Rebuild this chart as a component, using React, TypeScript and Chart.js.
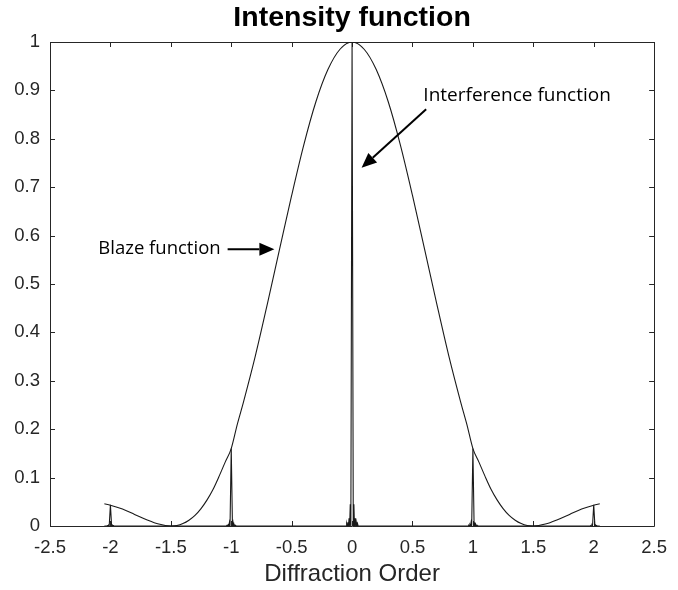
import React, { useEffect, useRef } from "react";
import { Chart, registerables } from "chart.js";

Chart.register(...registerables);

// ---- data ----
const blazeX = [
  -2.05, -2.0, -1.9, -1.8, -1.7, -1.6, -1.5, -1.45, -1.4, -1.35, -1.3, -1.25, -1.2, -1.15, -1.1, -1.05, -1.0,
  -0.95, -0.9, -0.8, -0.7, -0.6, -0.5, -0.4, -0.3, -0.2, -0.1, 0,
  0.1, 0.2, 0.3, 0.4, 0.5, 0.6, 0.7, 0.8, 0.9, 0.95,
  1.0, 1.05, 1.1, 1.15, 1.2, 1.25, 1.3, 1.35, 1.4, 1.45, 1.5, 1.6, 1.7, 1.8, 1.9, 2.0, 2.05,
];
const blazeY = [
  0.046, 0.043, 0.035, 0.024, 0.013, 0.004, 0.0, 0.001, 0.005, 0.012, 0.022, 0.036, 0.054, 0.076, 0.103, 0.132, 0.16,
  0.21, 0.255, 0.352, 0.46, 0.572, 0.683, 0.787, 0.876, 0.943, 0.985, 1.0,
  0.985, 0.943, 0.876, 0.787, 0.683, 0.572, 0.46, 0.352, 0.255, 0.21,
  0.16, 0.132, 0.103, 0.076, 0.054, 0.036, 0.022, 0.012, 0.005, 0.001, 0.0, 0.004, 0.013, 0.024, 0.035, 0.043, 0.046,
];

const interferenceX = [
  -2.05, -2.03, -2.025, -2.02, -2.015, -2.01, -2.0, -1.99, -1.985, -1.98, -1.975, -1.97,
  -1.04, -1.035, -1.03, -1.025, -1.02, -1.015, -1.01, -1.0, -0.99, -0.985, -0.98, -0.975, -0.97, -0.965, -0.96,
  -0.05, -0.045, -0.04, -0.035, -0.03, -0.025, -0.02, -0.015, -0.01, 0, 0.01, 0.015, 0.02, 0.025, 0.03, 0.035, 0.04, 0.045, 0.05,
  0.96, 0.965, 0.97, 0.975, 0.98, 0.985, 0.99, 1.0, 1.01, 1.015, 1.02, 1.025, 1.03, 1.035, 1.04,
  1.97, 1.975, 1.98, 1.985, 1.99, 2.0, 2.01, 2.015, 2.02, 2.025, 2.03, 2.05,
];
const interferenceY = [
  0, 0, 0.0007, 0, 0.002, 0, 0.044, 0, 0.002, 0, 0.0007, 0,
  0, 0.0013, 0, 0.0026, 0, 0.0074, 0, 0.16, 0, 0.0074, 0, 0.0026, 0, 0.0013, 0,
  0, 0.005, 0, 0.008, 0, 0.016, 0, 0.045, 0, 1.0, 0, 0.045, 0, 0.016, 0, 0.008, 0, 0.005, 0,
  0, 0.0013, 0, 0.0026, 0, 0.0074, 0, 0.16, 0, 0.0074, 0, 0.0026, 0, 0.0013, 0,
  0, 0.0007, 0, 0.002, 0, 0.044, 0, 0.002, 0, 0.0007, 0, 0,
];

const xTickValues = [-2.5, -2, -1.5, -1, -0.5, 0, 0.5, 1, 1.5, 2, 2.5];
const xTickLabels = ["-2.5", "-2", "-1.5", "-1", "-0.5", "0", "0.5", "1", "1.5", "2", "2.5"];
const yTickValues = [0, 0.1, 0.2, 0.3, 0.4, 0.5, 0.6, 0.7, 0.8, 0.9, 1];
const yTickLabels = ["0", "0.1", "0.2", "0.3", "0.4", "0.5", "0.6", "0.7", "0.8", "0.9", "1"];

const titleText = "Intensity function";
const xTitleText = "Diffraction Order";

// annotation anchors in data coordinates
const interferenceLabel = { text: "Interference function", x: 0.59, y: 0.889 };
const interferenceArrow = { x1: 0.613, y1: 0.861, x2: 0.079, y2: 0.74 };
const blazeLabel = { text: "Blaze function", x: -2.1, y: 0.572 };
const blazeArrow = { x1: -1.03, y1: 0.572, x2: -0.643, y2: 0.572 };

const AXIS_COLOR = "#262626";
const SANS = "'Liberation Sans', Arial, Helvetica, sans-serif";
const NOTE_FONT = "'Open Sans', 'Noto Sans', sans-serif";

const boxPlugin = {
  id: "matlabBox",
  beforeDatasetsDraw(chart: any) {
    const { ctx, chartArea, scales } = chart;
    const { left, right, top, bottom } = chartArea;
    const tl = 5;
    ctx.save();
    ctx.strokeStyle = AXIS_COLOR;
    ctx.lineWidth = 1;
    ctx.beginPath();
    ctx.rect(Math.round(left) + 0.5, Math.round(top) + 0.5, Math.round(right - left), Math.round(bottom - top));
    xTickValues.forEach((v) => {
      const px = Math.round(scales.x.getPixelForValue(v)) + 0.5;
      ctx.moveTo(px, bottom);
      ctx.lineTo(px, bottom - tl);
      ctx.moveTo(px, top);
      ctx.lineTo(px, top + tl);
    });
    yTickValues.forEach((v) => {
      const py = Math.round(scales.y.getPixelForValue(v)) + 0.5;
      ctx.moveTo(left, py);
      ctx.lineTo(left + tl, py);
      ctx.moveTo(right, py);
      ctx.lineTo(right - tl, py);
    });
    ctx.stroke();
    ctx.restore();
  },
};

function drawArrow(ctx: CanvasRenderingContext2D, x1: number, y1: number, x2: number, y2: number) {
  const ang = Math.atan2(y2 - y1, x2 - x1);
  const headLen = 15;
  const headHalf = 6.5;
  const bx = x2 - headLen * Math.cos(ang);
  const by = y2 - headLen * Math.sin(ang);
  ctx.beginPath();
  ctx.moveTo(x1, y1);
  ctx.lineTo(bx, by);
  ctx.stroke();
  ctx.beginPath();
  ctx.moveTo(x2, y2);
  ctx.lineTo(bx + headHalf * Math.sin(ang), by - headHalf * Math.cos(ang));
  ctx.lineTo(bx - headHalf * Math.sin(ang), by + headHalf * Math.cos(ang));
  ctx.closePath();
  ctx.fill();
}

const notesPlugin = {
  id: "notes",
  afterDraw(chart: any) {
    const { ctx, scales } = chart;
    const X = (v: number) => scales.x.getPixelForValue(v);
    const Y = (v: number) => scales.y.getPixelForValue(v);
    ctx.save();
    ctx.fillStyle = "#000";
    ctx.strokeStyle = "#000";
    ctx.lineWidth = 2;
    ctx.textAlign = "left";
    ctx.textBaseline = "middle";
    ctx.font = `19px ${NOTE_FONT}`;
    ctx.fillText(interferenceLabel.text, X(interferenceLabel.x), Y(interferenceLabel.y));
    ctx.font = `18.5px ${NOTE_FONT}`;
    ctx.fillText(blazeLabel.text, X(blazeLabel.x), Y(blazeLabel.y));
    drawArrow(ctx, X(interferenceArrow.x1), Y(interferenceArrow.y1), X(interferenceArrow.x2), Y(interferenceArrow.y2));
    drawArrow(ctx, X(blazeArrow.x1), Y(blazeArrow.y1), X(blazeArrow.x2), Y(blazeArrow.y2));
    ctx.restore();
  },
};

export default function App() {
  const canvasRef = useRef<HTMLCanvasElement | null>(null);

  useEffect(() => {
    if (!canvasRef.current) return;
    const chart = new Chart(canvasRef.current, {
      type: "scatter",
      data: {
        datasets: [
          {
            label: "Blaze function",
            data: blazeX.map((x, i) => ({ x, y: blazeY[i] })),
            showLine: true,
            borderColor: "#1a1a1a",
            borderWidth: 1.1,
            pointRadius: 0,
            cubicInterpolationMode: "monotone",
          },
          {
            label: "Interference function",
            data: interferenceX.map((x, i) => ({ x, y: interferenceY[i] })),
            showLine: true,
            borderColor: "#1a1a1a",
            borderWidth: 1.1,
            pointRadius: 0,
            tension: 0,
          },
        ],
      },
      options: {
        animation: false,
        responsive: false,
        maintainAspectRatio: false,
        layout: { padding: { left: 0, right: 14, top: 0, bottom: 0 } },
        plugins: {
          legend: { display: false },
          tooltip: { enabled: false },
          title: {
            display: true,
            text: titleText,
            fullSize: false,
            color: "#000",
            font: { family: SANS, size: 28.5, weight: "bold" },
            padding: { top: 1, bottom: 6.8 },
          },
        },
        scales: {
          x: {
            type: "linear",
            min: -2.5,
            max: 2.5,
            afterBuildTicks: (s: any) => {
              s.ticks = xTickValues.map((value) => ({ value }));
            },
            afterFit: (s: any) => {
              s.height = 64;
            },
            ticks: {
              callback: (_v: any, i: number) => xTickLabels[i],
              color: AXIS_COLOR,
              font: { family: SANS, size: 18.5 },
              padding: 11,
              maxRotation: 0,
              autoSkip: false,
            },
            grid: { display: false, drawTicks: false },
            border: { display: false },
            title: {
              display: true,
              text: xTitleText,
              color: AXIS_COLOR,
              font: { family: SANS, size: 24 },
              padding: { top: 0, bottom: 1 },
            },
          },
          y: {
            type: "linear",
            min: 0,
            max: 1,
            afterBuildTicks: (s: any) => {
              s.ticks = yTickValues.map((value) => ({ value }));
            },
            afterFit: (s: any) => {
              s.width = 50;
            },
            ticks: {
              callback: (_v: any, i: number) => yTickLabels[i],
              color: AXIS_COLOR,
              font: { family: SANS, size: 18.5 },
              padding: 10,
              autoSkip: false,
            },
            grid: { display: false, drawTicks: false },
            border: { display: false },
          },
        },
      },
      plugins: [boxPlugin, notesPlugin],
    } as any);
    return () => chart.destroy();
  }, []);

  return (
    <div style={{ position: "absolute", left: 0, top: 0, width: 678, height: 590, background: "#fff" }}>
      <canvas ref={canvasRef} width={678} height={590} style={{ display: "block" }} />
    </div>
  );
}
